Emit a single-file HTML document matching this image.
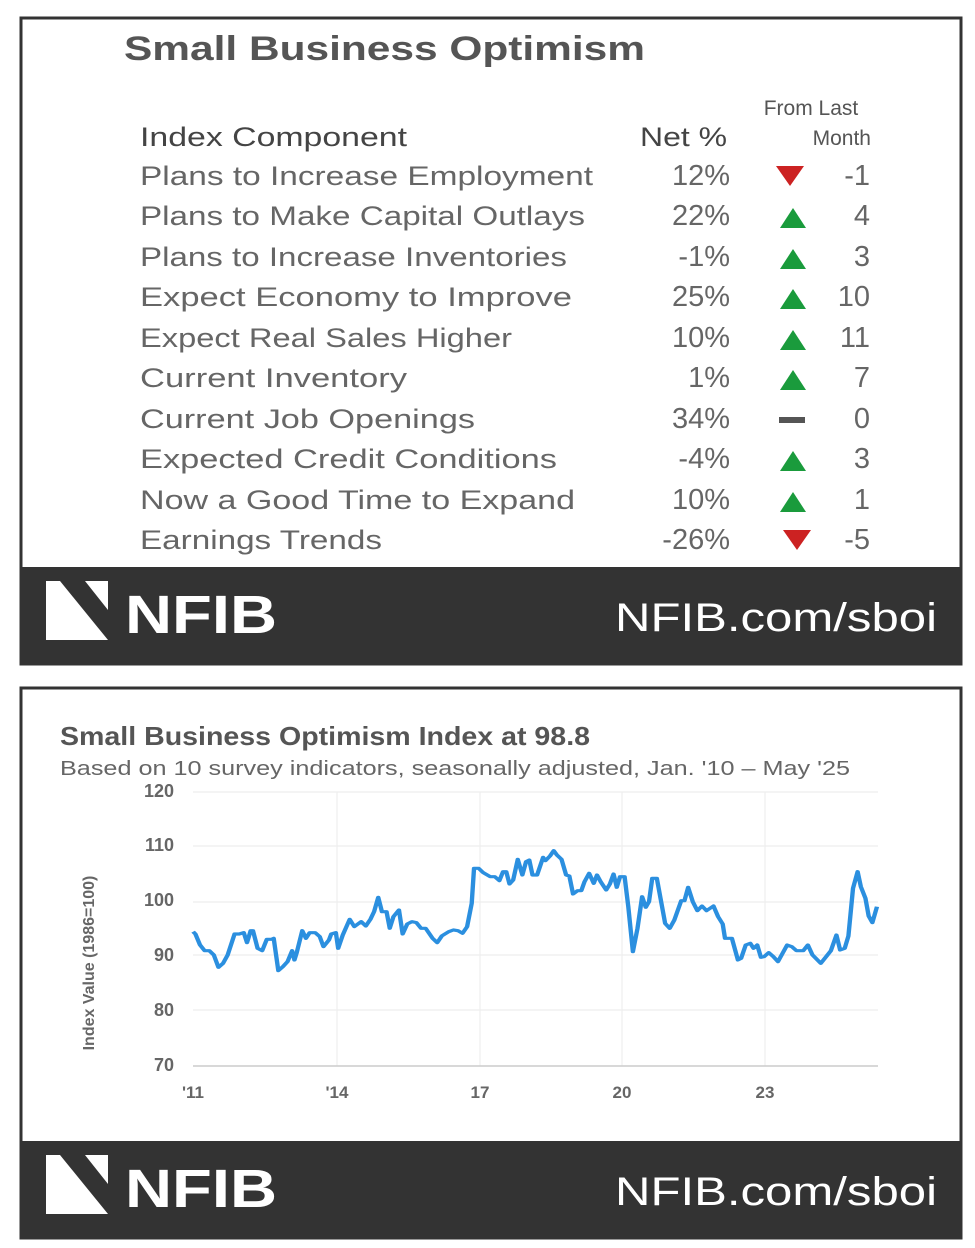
<!DOCTYPE html>
<html><head><style>
html,body{margin:0;padding:0;background:#fff;}
svg{display:block;}
text{font-family:"Liberation Sans",sans-serif;}
</style></head><body>
<svg width="975" height="1248" viewBox="0 0 975 1248" xmlns="http://www.w3.org/2000/svg">
<rect width="975" height="1248" fill="#fff"/>
<!-- top panel -->
<rect x="21" y="18" width="940" height="646" fill="#fff" stroke="#333" stroke-width="3"/>
<text x="124" y="60" font-size="34" font-weight="bold" fill="#555" textLength="521" lengthAdjust="spacingAndGlyphs">Small Business Optimism</text>
<text x="811" y="115" font-size="21" fill="#555" text-anchor="middle">From Last</text>
<text x="871" y="145" font-size="21" fill="#555" text-anchor="end">Month</text>
<text x="140" y="146" font-size="27" fill="#444" textLength="267" lengthAdjust="spacingAndGlyphs">Index Component</text>
<text x="640" y="146" font-size="27" fill="#444" textLength="87" lengthAdjust="spacingAndGlyphs">Net %</text>
<g font-size="27" fill="#666">
<text x="140" y="185" textLength="453" lengthAdjust="spacingAndGlyphs">Plans to Increase Employment</text>
<text x="140" y="225" textLength="445" lengthAdjust="spacingAndGlyphs">Plans to Make Capital Outlays</text>
<text x="140" y="266" textLength="427" lengthAdjust="spacingAndGlyphs">Plans to Increase Inventories</text>
<text x="140" y="306" textLength="432" lengthAdjust="spacingAndGlyphs">Expect Economy to Improve</text>
<text x="140" y="347" textLength="372" lengthAdjust="spacingAndGlyphs">Expect Real Sales Higher</text>
<text x="140" y="387" textLength="267" lengthAdjust="spacingAndGlyphs">Current Inventory</text>
<text x="140" y="428" textLength="335" lengthAdjust="spacingAndGlyphs">Current Job Openings</text>
<text x="140" y="468" textLength="417" lengthAdjust="spacingAndGlyphs">Expected Credit Conditions</text>
<text x="140" y="509" textLength="435" lengthAdjust="spacingAndGlyphs">Now a Good Time to Expand</text>
<text x="140" y="549" textLength="242" lengthAdjust="spacingAndGlyphs">Earnings Trends</text>
</g>
<g font-size="29" fill="#666" text-anchor="end">
<text x="730" y="185">12%</text><text x="730" y="225">22%</text><text x="730" y="266">-1%</text>
<text x="730" y="306">25%</text><text x="730" y="347">10%</text><text x="730" y="387">1%</text>
<text x="730" y="428">34%</text><text x="730" y="468">-4%</text><text x="730" y="509">10%</text>
<text x="730" y="549">-26%</text>
<text x="870" y="185">-1</text><text x="870" y="225">4</text><text x="870" y="266">3</text>
<text x="870" y="306">10</text><text x="870" y="347">11</text><text x="870" y="387">7</text>
<text x="870" y="428">0</text><text x="870" y="468">3</text><text x="870" y="509">1</text>
<text x="870" y="549">-5</text>
</g>
<g fill="#1a9b3c">
<polygon points="780,228 806,228 793,208"/>
<polygon points="780,269 806,269 793,249"/>
<polygon points="780,309 806,309 793,289"/>
<polygon points="780,350 806,350 793,330"/>
<polygon points="780,390 806,390 793,370"/>
<polygon points="780,471 806,471 793,451"/>
<polygon points="780,512 806,512 793,492"/>
</g>
<g fill="#cc2222">
<polygon points="776,166 804,166 790,186"/>
<polygon points="783,530 811,530 797,550"/>
</g>
<rect x="779" y="417" width="26" height="6" fill="#555"/>
<rect x="21" y="567" width="940" height="97" fill="#333"/>
<g fill="#fff">
<polygon points="46,581 60,581 108,640 46,640"/>
<polygon points="85,581 108,581 108,610"/>
</g>
<text x="125" y="633" font-size="54" font-weight="bold" fill="#fff" textLength="152" lengthAdjust="spacingAndGlyphs">NFIB</text>
<text x="937" y="631" font-size="40" fill="#fff" text-anchor="end" textLength="322" lengthAdjust="spacingAndGlyphs">NFIB.com/sboi</text>

<!-- bottom panel -->
<rect x="21" y="688" width="940" height="550" fill="#fff" stroke="#333" stroke-width="3"/>
<text x="60" y="745" font-size="26" font-weight="bold" fill="#555" textLength="530" lengthAdjust="spacingAndGlyphs">Small Business Optimism Index at 98.8</text>
<text x="60" y="775" font-size="20" fill="#666" textLength="790" lengthAdjust="spacingAndGlyphs">Based on 10 survey indicators, seasonally adjusted,  Jan. '10 – May '25</text>
<g stroke="#eee" stroke-width="1.2">
<line x1="193" y1="792" x2="878" y2="792"/>
<line x1="193" y1="846" x2="878" y2="846"/>
<line x1="193" y1="902" x2="878" y2="902"/>
<line x1="193" y1="955" x2="878" y2="955"/>
<line x1="193" y1="1010" x2="878" y2="1010"/>
<line x1="337" y1="792" x2="337" y2="1066"/>
<line x1="480" y1="792" x2="480" y2="1066"/>
<line x1="622" y1="792" x2="622" y2="1066"/>
<line x1="765" y1="792" x2="765" y2="1066"/>
</g>
<line x1="193" y1="1066" x2="878" y2="1066" stroke="#ccc" stroke-width="1.5"/>
<g font-size="18" font-weight="bold" fill="#666" text-anchor="end">
<text x="174" y="797">120</text><text x="174" y="851">110</text><text x="174" y="906">100</text>
<text x="174" y="961">90</text><text x="174" y="1016">80</text><text x="174" y="1071">70</text>
</g>
<g font-size="17" font-weight="bold" fill="#666" text-anchor="middle">
<text x="193" y="1098">'11</text><text x="337" y="1098">'14</text><text x="480" y="1098">17</text>
<text x="622" y="1098">20</text><text x="765" y="1098">23</text>
</g>
<text transform="translate(94,963) rotate(-90)" font-size="16" font-weight="bold" fill="#666" text-anchor="middle">Index Value (1986=100)</text>
<g transform="translate(177,780) scale(0.4605,0.3333)">
<polyline fill="none" stroke="#2b8fdf" stroke-width="9.5" stroke-linejoin="round" points="35,455 40,462 50,495 60,512 70,512 80,525 90,562 100,550 110,525 125,462 135,462 145,458 152,488 160,452 165,452 175,505 185,512 195,478 205,478 210,475 220,572 230,560 240,545 250,512 255,540 260,518 272,452 280,475 288,458 300,458 310,470 318,500 330,480 335,462 345,458 350,505 360,465 375,418 385,440 400,425 410,438 420,418 428,395 437,352 445,395 455,395 462,445 470,410 482,390 490,462 500,432 510,425 520,428 530,445 540,445 555,475 565,488 575,468 590,455 600,450 610,452 620,460 630,440 640,370 645,265 655,265 665,278 680,290 690,290 700,302 708,275 715,275 722,312 730,300 740,238 750,285 758,245 765,240 772,285 782,285 795,232 800,242 810,228 818,212 825,225 835,238 845,285 852,288 860,342 870,332 878,332 885,305 895,280 905,310 912,285 920,305 932,330 940,312 948,282 955,322 962,290 972,290 980,380 990,515 1000,445 1010,350 1018,382 1025,365 1032,295 1042,295 1050,355 1060,430 1070,445 1080,420 1095,362 1102,362 1110,322 1120,365 1130,392 1140,378 1150,392 1165,378 1175,410 1185,432 1190,475 1205,475 1218,540 1225,535 1235,495 1245,490 1252,505 1260,495 1268,532 1275,530 1285,518 1295,530 1305,545 1315,520 1325,495 1335,500 1345,512 1360,512 1370,495 1380,525 1398,550 1405,538 1420,512 1432,465 1440,510 1450,505 1458,468 1468,325 1478,275 1485,320 1495,355 1502,408 1510,428 1520,380"/>
</g>
<rect x="21" y="1141" width="940" height="97" fill="#333"/>
<g fill="#fff">
<polygon points="46,1155 60,1155 108,1214 46,1214"/>
<polygon points="85,1155 108,1155 108,1184"/>
</g>
<text x="125" y="1207" font-size="54" font-weight="bold" fill="#fff" textLength="152" lengthAdjust="spacingAndGlyphs">NFIB</text>
<text x="937" y="1205" font-size="40" fill="#fff" text-anchor="end" textLength="322" lengthAdjust="spacingAndGlyphs">NFIB.com/sboi</text>
</svg>
</body></html>
